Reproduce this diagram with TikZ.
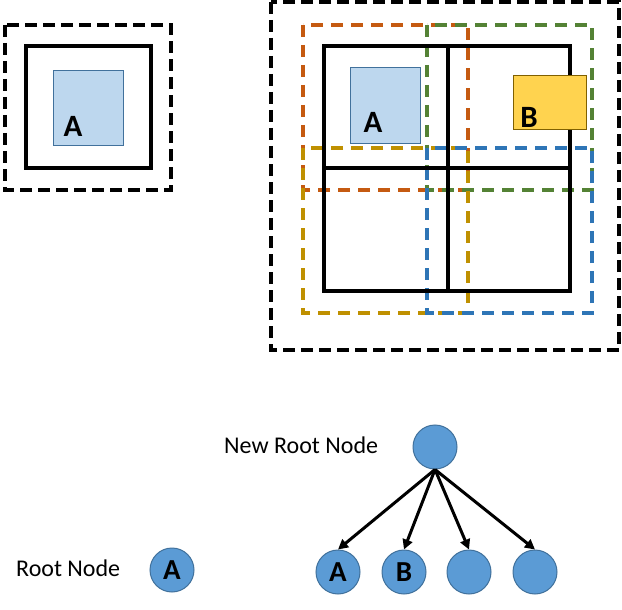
\documentclass[tikz,border=0pt]{standalone}
\usepackage{fontspec}
\setmainfont{Carlito}
\usetikzlibrary{arrows.meta}

\definecolor{objfill}{HTML}{BDD7EE}
\definecolor{objedge}{HTML}{41719C}
\definecolor{bfill}{HTML}{FFD34F}
\definecolor{bedge}{HTML}{806000}
\definecolor{nodefill}{HTML}{5B9BD5}
\definecolor{qorange}{HTML}{C55A11}
\definecolor{qgreen}{HTML}{548235}
\definecolor{qgold}{HTML}{BF9000}
\definecolor{qblue}{HTML}{2E75B6}

\tikzset{
	outer/.style={line width=3.5pt, dash pattern=on 12pt off 6pt},
	cell/.style={line width=3.6pt},
	region/.style={line width=3.2pt, dash pattern=on 12pt off 8pt},
	lbl/.style={inner sep=0pt, font=\fontsize{31}{31}\selectfont\bfseries},
	tnode/.style={circle, fill=nodefill, draw=objedge, line width=1pt, minimum size=44pt, inner sep=0pt, font=\fontsize{29}{29}\selectfont\bfseries},
	caption/.style={anchor=west, inner sep=0pt, font=\fontsize{24}{24}\selectfont},
	link/.style={line width=3pt, -{Triangle[length=10pt, width=10pt]}}
}

\begin{document}
\begin{tikzpicture}[x=1pt, y=-1pt]
\useasboundingbox (0,0) rectangle (622,610);

% Nodo raiz solo
	\draw[outer] (5,25) rectangle (171,190);
	\draw[cell] (26,46) rectangle (151,168);
	\draw[fill=objfill, draw=objedge, line width=1pt] (53,71) rectangle (123,146);
	\node[lbl] (la) at (73,126) {A};

% Cuatro hijos
	\draw[outer] (271,2) rectangle (619,350);

	\draw[region, qorange] (303,25) rectangle (468,190);
	\draw[region, qgreen] (427,25) rectangle (592,190);
	\draw[region, qgold] (303,148) rectangle (468,313);
	\draw[region, qblue] (427,148) rectangle (592,313);

	\draw[cell] (324,46) rectangle (570,291);
	\draw[cell] (448,46) -- (448,291);
	\draw[cell] (324,168) -- (570,168);

	\draw[fill=objfill, draw=objedge, line width=1pt] (350,68) rectangle (420,144);
	\node[lbl] (ra) at (373,122) {A};
	\draw[fill=bfill, draw=bedge, line width=1pt] (513,76) rectangle (586,130);
	\node[lbl] (rb) at (529,117) {B};

% Arboles
\node[caption] (oldcap) at (16,568) {Root Node};
\node[tnode] (single) at (172,570) {A};

\node[caption] (newcap) at (224,445) {New Root Node};
\node[tnode] (root) at (435,447) {};
	\foreach \x/\t [count=\i] in {338/A, 404/B, 469/, 535/}
		\node[tnode] (c\i) at (\x,572) {\t};
	\foreach \i in {1,...,4}
		\draw[link] (root.south) -- (c\i.north);
\end{tikzpicture}
\end{document}
